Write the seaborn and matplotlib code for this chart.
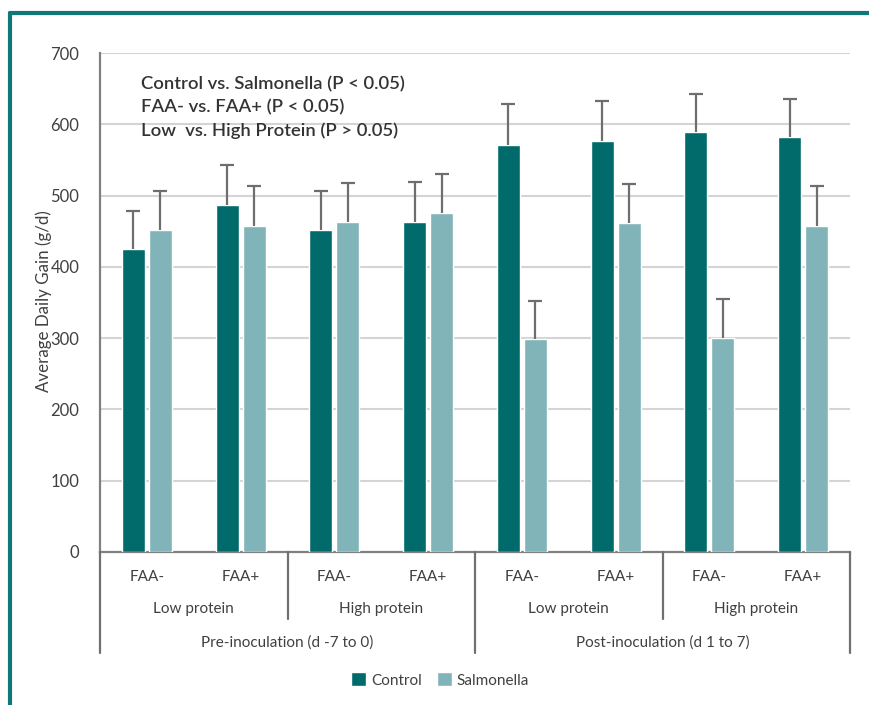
import matplotlib
matplotlib.use("Agg")
import matplotlib.pyplot as plt
import seaborn as sns
import pandas as pd
from matplotlib.lines import Line2D
from matplotlib.patches import Patch

# ---- data ----
periods = ["Pre-inoculation (d -7 to 0)", "Post-inoculation (d 1 to 7)"]
proteins = ["Low protein", "High protein"]
faa = ["FAA-", "FAA+"]
control = [425, 487, 452, 463, 571, 576, 589, 582]
salmonella = [452, 457, 463, 475, 299, 462, 300, 457]
control_err = [53, 56, 55, 56, 58, 57, 54, 54]
salmonella_err = [55, 56, 55, 55, 53, 54, 55, 56]
treatments = ["Control", "Salmonella"]
annotations = ["Control vs. Salmonella (P < 0.05)",
               "FAA- vs. FAA+ (P < 0.05)",
               "Low  vs. High Protein (P > 0.05)"]

cats = [f"{p}|{pr}|{f}" for p in periods for pr in proteins for f in faa]
df = pd.DataFrame({
    "cat": cats * 2,
    "trt": [treatments[0]] * 8 + [treatments[1]] * 8,
    "val": control + salmonella,
})
errs = [control_err, salmonella_err]

colors = ["#016b6b", "#80b4b8"]
text_col = "#404040"

sns.set_style("white")
plt.rcParams["font.family"] = ["Lato", "DejaVu Sans"]

W, H = 869, 705
fig = plt.figure(figsize=(W / 100, H / 100), dpi=100)
x0, x1, ytop, ybot = 100, 850, 53, 552
ax = fig.add_axes([x0 / W, 1 - ybot / H, (x1 - x0) / W, (ybot - ytop) / H])

sns.barplot(data=df, x="cat", y="val", hue="trt", palette=colors, order=cats,
            hue_order=treatments, errorbar=None, width=0.576, gap=0.15,
            saturation=1, ax=ax, legend=False, zorder=3)

for cont, e in zip(ax.containers, errs):
    xs = [b.get_x() + b.get_width() / 2 for b in cont]
    hs = [b.get_height() for b in cont]
    _, caps, _ = ax.errorbar(xs, hs, yerr=[[0] * len(e), e], fmt="none",
                             ecolor="#6e6e6e", elinewidth=1.6, capsize=5,
                             capthick=1.6, zorder=4)
    caps[0].set_visible(False)

ax.set_ylim(0, 700)
ax.set_xlim(-0.5, 7.5)
ax.set_yticks(range(0, 701, 100))
ax.grid(axis="y", color="#d4d4d4", lw=1.5, zorder=0)
ax.set_axisbelow(True)
for s in ["top", "right"]:
    ax.spines[s].set_visible(False)
ax.spines["left"].set_color("#808080")
ax.spines["left"].set_linewidth(1.6)
ax.spines["bottom"].set_color("#808080")
ax.spines["bottom"].set_linewidth(1.6)
ax.tick_params(axis="y", length=0, labelsize=12, labelcolor=text_col, pad=15)
ax.set_xticks([])
ax.set_xlabel("")
ax.set_ylabel("")

fig.text(44 / W, 1 - 301 / H, "Average Daily Gain (g/d)", rotation=90,
         ha="center", va="center", fontsize=12.2, color=text_col)

# hierarchical x labels
def fy(py):
    return 1 - py / H

def fx(i):  # category index -> figure x
    return (x0 + (i + 0.5) * (x1 - x0) / 8) / W

for i, c in enumerate(cats):
    fig.text(fx(i), fy(577), c.split("|")[2], ha="center", va="center",
             fontsize=11, color=text_col)
for j in range(4):
    fig.text(fx(2 * j + 0.5), fy(609), proteins[j % 2], ha="center",
             va="center", fontsize=11, color=text_col)
for k in range(2):
    fig.text(fx(4 * k + 1.5), fy(643), periods[k], ha="center", va="center",
             fontsize=11, color=text_col)

lc = "#707070"
for px, bottom in [(x0, 653), (x0 + (x1 - x0) / 4, 619), ((x0 + x1) / 2, 653),
                   (x0 + 3 * (x1 - x0) / 4, 619), (x1, 653)]:
    fig.add_artist(Line2D([px / W, px / W], [fy(552), fy(bottom)], color=lc,
                          lw=1.6, transform=fig.transFigure))

for t, py in zip(annotations, [84, 107, 131]):
    fig.text(141 / W, fy(py), t, ha="left", va="center", fontsize=13.3,
             color="#333333", fontweight="semibold")

handles = [Patch(facecolor=c, label=t) for c, t in zip(colors, treatments)]
fig.legend(handles=handles, loc="center", bbox_to_anchor=(440 / W, fy(680)),
           ncol=2, frameon=False, fontsize=11, handlelength=1.0,
           handleheight=1.0, handletextpad=0.3, columnspacing=1.0,
           labelcolor=text_col)

# teal frame
fc = "#107878"
fig.add_artist(Line2D([9.5 / W, 1.0], [fy(12.5), fy(12.5)], color=fc, lw=3,
                      transform=fig.transFigure))
fig.add_artist(Line2D([9.5 / W, 9.5 / W], [fy(12.5), 0], color=fc, lw=3,
                      transform=fig.transFigure))

fig.savefig("out.png", dpi=100, facecolor="white")
